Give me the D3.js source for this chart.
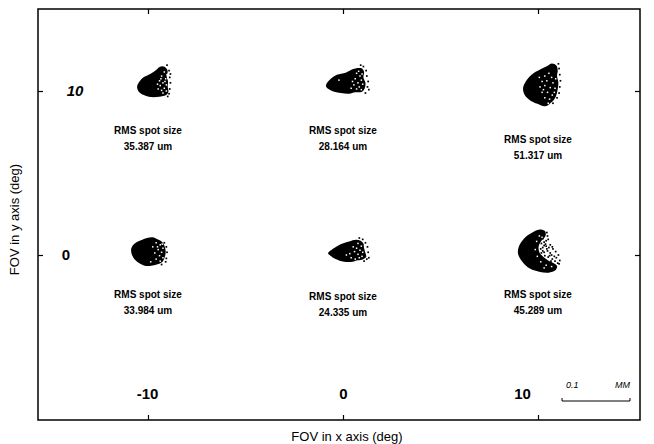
<!DOCTYPE html>
<html>
<head>
<meta charset="utf-8">
<script src="https://cdn.jsdelivr.net/npm/d3@7/dist/d3.min.js"></script>
<style>
  html, body { margin: 0; padding: 0; background: #fff; }
  svg { display: block; }
  text { font-family: "Liberation Sans", Arial, sans-serif; fill: #000; }
</style>
</head>
<body>
<svg id="chart" width="654" height="444"></svg>
<script>
// Field angles (deg) of the six spot diagrams
const fieldX = [-10, 0, 10];
const fieldY = [10, 0];
const xTicks = [-10, 0, 10];
const yTicks = [10, 0];

// RMS spot sizes (um), row by row: y = 10 then y = 0
const rmsRow10 = [35.387, 28.164, 51.317];
const rmsRow0 = [33.984, 24.335, 45.289];

// Spot envelopes, offsets in um from the chief ray (y up)
const env_m10_10 = [[21.5,36.5],[26.5,34],[29,29],[27.5,21.5],[29.5,14],[29,6.5],[30,-1],[26.5,-6],[16.5,-8.5],[4,-9],[-6,-6],[-13.5,-1],[-16,6.5],[-12.5,14],[-6,20.5],[4,25.5],[11.5,30.5],[16.5,35]];
const env_0_10 = [[-25,9],[-18,18],[-9,24],[4,27],[14,32],[23,34],[28,33],[31,28],[30,20],[33,12],[32,4],[28,-1],[18,-2],[9,-4],[-3,-3],[-16,0],[-24,5]];
const env_10_10 = [[20.5,40.5],[27,37.5],[29,30],[28,22],[30,12],[29,3],[27,-6],[24,-12],[18,-18],[10.5,-22.5],[-2,-18.5],[-12,-13.5],[-19.5,-6],[-22,4],[-18,14],[-9.5,24],[3,31.5],[13,36.5]];
const env_m10_0 = [[6.5,26],[14,23],[20,20],[24,14],[26,6],[25,-2],[22,-9],[16.5,-13],[9,-15],[-3.5,-16],[-16,-10],[-23.5,0],[-24.5,10],[-18.5,17.5],[-8.5,22.5]];
const env_0_0 = [[-22,2.5],[-13.5,10],[-3.5,16],[9,20],[19,22.5],[26,21],[30,17],[31,10],[33,3],[34,-3],[28,-7],[20,-8],[14,-10],[1.5,-10],[-11,-6],[-18.5,-1]];
const env_10_0 = [[3,37.5],[10.5,35],[11,28],[5,21],[1,13],[2,4],[8,-3],[15,-8],[23,-12],[28,-16],[26,-22],[15.5,-26],[3,-25],[-12,-20],[-23,-10],[-29.5,2.5],[-27,15],[-17,27.5],[-7,34]];

// Gaps between ray intercepts inside the sparse part of each spot, um (y up)
const gaps_m10_10 = [[24,28],[20,22],[26,18],[17,15],[22,12],[27,9],[18,8],[24,4],[20,1],[27,0],[15,3],[22,-3],[25,14],[19,18],[14,10],[28,24]];
const gaps_0_10 = [[20,26],[25,22],[18,18],[27,16],[22,12],[29,10],[16,9],[24,6],[20,3],[27,2],[14,14],[23,29],[12,4],[-6,16],[28,25]];
const gaps_10_10 = [[10,22],[16,26],[20,20],[6,14],[13,15],[22,12],[3,6],[10,8],[18,5],[25,4],[6,-2],[14,-2],[21,-6],[10,-10],[17,-12],[24,-2],[26,18],[2,20],[15,-18],[8,2]];
const gaps_m10_0 = [[12,18],[18,15],[22,10],[15,8],[20,4],[10,3],[17,-1],[22,-4],[12,-6],[18,-9],[7,12],[14,12],[4,-10],[21,16]];
const gaps_0_0 = [[22,17],[27,13],[20,10],[25,7],[29,4],[17,5],[22,1],[28,-2],[15,12],[24,-4],[10,2],[5,0],[12,-4],[18,-6]];
const gaps_10_0 = [[-2,20],[-4,8],[4,-10],[12,-15],[20,-17],[2,28],[6,26],[-1,-2],[9,-19]];

// Stray ray intercepts outside the dense envelopes, um (y up)
const rays_m10_10 = [[31,30],[32,20],[33,12],[32,3],[31,-4],[28,38],[33,25],[29,-8]];
const rays_0_10 = [[34,30],[35,22],[37,14],[36,6],[38,2],[33,-3],[30,36],[26,38]];
const rays_10_10 = [[31,33],[32,24],[33,15],[32,6],[31,-3],[28,-10],[22,-18],[30,40]];
const rays_m10_0 = [[27,12],[28,4],[27,-5],[24,18],[20,-14],[26,-10]];
const rays_0_0 = [[36,12],[37,4],[38,-4],[35,-6],[33,18],[29,23],[24,25],[31,-9]];
const rays_10_0 = [[7,24],[5,17],[9,19],[4,9],[7,11],[12,13],[5,3],[9,4],[14,6],[18,3],[10,-1],[15,-3],[21,-6],[25,-9],[19,-9],[29,-12],[12,21],[15,23],[18,15],[22,9],[26,5],[30,0],[32,-8],[13,33],[13,9],[17,-1],[24,-2],[7,6],[11,16],[16,11],[20,0],[27,-4],[14,28],[9,14],[21,12],[31,-13]];

const envelopes = [[env_m10_10, env_0_10, env_10_10], [env_m10_0, env_0_0, env_10_0]];
const gaps = [[gaps_m10_10, gaps_0_10, gaps_10_10], [gaps_m10_0, gaps_0_0, gaps_10_0]];
const rays = [[rays_m10_10, rays_0_10, rays_10_10], [rays_m10_0, rays_0_0, rays_10_0]];
const rms = [rmsRow10, rmsRow0];

const scaleBarUm = 100;   // 0.1 MM

const svg = d3.select("#chart");
const frame = { left: 38, top: 9, right: 640, bottom: 420 };

// Field-angle scales
const x = d3.scaleLinear().domain([-15.64, 15.23]).range([frame.left, frame.right]);
const y = d3.scaleLinear().domain([-10.06, 15]).range([frame.bottom, frame.top]);
// Spot-plane scale: um -> px (0.1 mm bar spans 68 px)
const um = d3.scaleLinear().domain([0, scaleBarUm]).range([0, 68]);

// Frame
svg.append("rect")
  .attr("x", frame.left).attr("y", frame.top)
  .attr("width", frame.right - frame.left).attr("height", frame.bottom - frame.top)
  .attr("fill", "none").attr("stroke", "#000").attr("stroke-width", 1.5);

const plain = d => String(d);

// Axes: ticks point into the frame, labels sit inside
const axBottom = d3.axisBottom(x).tickValues(xTicks).tickSizeInner(-5).tickSizeOuter(0).tickFormat(plain);
const gB = svg.append("g").attr("transform", `translate(0,${frame.bottom})`).call(axBottom);
gB.select(".domain").remove();
gB.selectAll("text")
  .attr("y", -21)
  .attr("dy", 0)
  .attr("dx", d => d === 10 ? -16 : (d === -10 ? -1 : 0))
  .style("font-size", "15px").style("font-weight", "bold");

const axTop = d3.axisTop(x).tickValues(xTicks).tickSizeInner(-5).tickSizeOuter(0).tickFormat("");
const gT = svg.append("g").attr("transform", `translate(0,${frame.top})`).call(axTop);
gT.select(".domain").remove();

const axLeft = d3.axisLeft(y).tickValues(yTicks).tickSizeInner(-5).tickSizeOuter(0).tickFormat(plain);
const gL = svg.append("g").attr("transform", `translate(${frame.left},0)`).call(axLeft);
gL.select(".domain").remove();
gL.selectAll("text")
  .attr("x", d => d === 10 ? 37 : 28)
  .attr("text-anchor", "middle")
  .style("font-size", "15px").style("font-weight", "bold")
  .style("font-style", d => d === 10 ? "italic" : "normal");

const axRight = d3.axisRight(y).tickValues(yTicks).tickSizeInner(-5).tickSizeOuter(0).tickFormat("");
const gR = svg.append("g").attr("transform", `translate(${frame.right},0)`).call(axRight);
gR.select(".domain").remove();

svg.selectAll(".tick line").attr("stroke", "#000").attr("stroke-width", 1.2);

// Axis titles
svg.append("text")
  .attr("x", (frame.left + frame.right) / 2 + 8).attr("y", 441)
  .attr("text-anchor", "middle").style("font-size", "13px")
  .text("FOV in x axis (deg)");
svg.append("text")
  .attr("transform", `translate(19,${(frame.top + frame.bottom) / 2 + 5}) rotate(-90)`)
  .attr("text-anchor", "middle").style("font-size", "13px")
  .text("FOV in y axis (deg)");

// Spot diagrams
const outline = d3.line().curve(d3.curveCatmullRomClosed.alpha(0.5));
const labelShift = [[0, 0, 9], [0, 2, 0]];
const dot = 1.7, gapDot = 1.5;

fieldY.forEach((fy, r) => {
  fieldX.forEach((fx, c) => {
    const cx = x(fx), cy = y(fy);
    const g = svg.append("g").attr("transform", `translate(${cx},${cy})`);
    g.append("path")
      .attr("d", outline(envelopes[r][c].map(p => [um(p[0]), -um(p[1])])))
      .attr("fill", "#000");
    g.selectAll("rect.gap").data(gaps[r][c]).enter().append("rect")
      .attr("class", "gap")
      .attr("x", d => um(d[0]) - gapDot / 2).attr("y", d => -um(d[1]) - gapDot / 2)
      .attr("width", gapDot).attr("height", gapDot)
      .attr("fill", "#fff");
    g.selectAll("rect.ray").data(rays[r][c]).enter().append("rect")
      .attr("class", "ray")
      .attr("x", d => um(d[0]) - dot / 2).attr("y", d => -um(d[1]) - dot / 2)
      .attr("width", dot).attr("height", dot)
      .attr("fill", "#000");

    const ly = cy + 43 + labelShift[r][c];
    const lab = svg.append("text")
      .attr("x", cx).attr("y", ly)
      .attr("text-anchor", "middle")
      .style("font-size", "10px").style("font-weight", "bold");
    lab.append("tspan").attr("x", cx).attr("dy", 0).text("RMS spot size");
    lab.append("tspan").attr("x", cx).attr("dy", 16).text(`${d3.format(".3f")(rms[r][c])} um`);
  });
});

// Scale bar (0.1 MM)
const sbX0 = 562, sbY = 401;
svg.append("line")
  .attr("x1", sbX0).attr("x2", sbX0 + um(scaleBarUm))
  .attr("y1", sbY).attr("y2", sbY)
  .attr("stroke", "#000").attr("stroke-width", 1.2);
[0, scaleBarUm].forEach(v => {
  svg.append("line")
    .attr("x1", sbX0 + um(v)).attr("x2", sbX0 + um(v))
    .attr("y1", sbY).attr("y2", sbY - 3)
    .attr("stroke", "#000").attr("stroke-width", 1);
});
svg.append("text").attr("x", sbX0 + 4).attr("y", 388)
  .style("font-size", "9px").style("font-style", "italic")
  .text(d3.format(".1f")(scaleBarUm / 1000));
svg.append("text").attr("x", sbX0 + um(scaleBarUm)).attr("y", 388)
  .attr("text-anchor", "end")
  .style("font-size", "9px").style("font-style", "italic")
  .text("MM");
</script>
</body>
</html>
